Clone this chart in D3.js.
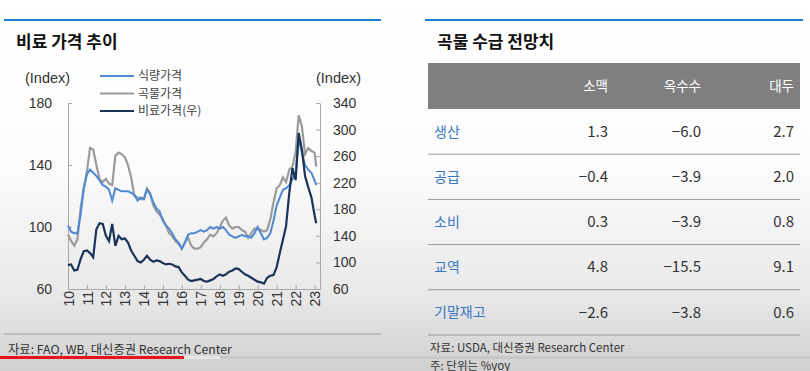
<!DOCTYPE html>
<html>
<head>
<meta charset="utf-8">
<script src="https://cdn.jsdelivr.net/npm/d3@7"></script>
<style>
  body { margin: 0; background: #fff; }
  svg { display: block; }
</style>
</head>
<body>
<script>
// bi-monthly dates (last point Feb 2023)
const dates = [
  "2010-01","2010-03","2010-05","2010-07","2010-09","2010-11",
  "2011-01","2011-03","2011-05","2011-07","2011-09","2011-11",
  "2012-01","2012-03","2012-05","2012-07","2012-09","2012-11",
  "2013-01","2013-03","2013-05","2013-07","2013-09","2013-11",
  "2014-01","2014-03","2014-05","2014-07","2014-09","2014-11",
  "2015-01","2015-03","2015-05","2015-07","2015-09","2015-11",
  "2016-01","2016-03","2016-05","2016-07","2016-09","2016-11",
  "2017-01","2017-03","2017-05","2017-07","2017-09","2017-11",
  "2018-01","2018-03","2018-05","2018-07","2018-09","2018-11",
  "2019-01","2019-03","2019-05","2019-07","2019-09","2019-11",
  "2020-01","2020-03","2020-05","2020-07","2020-09","2020-11",
  "2021-01","2021-03","2021-05","2021-07","2021-09","2021-11",
  "2022-01","2022-03","2022-05","2022-07","2022-09","2022-11",
  "2023-01","2023-02"
];

// 식량가격 (left axis)
const food = [
  101, 97, 96, 96, 108, 125,
  134, 137, 135, 133, 130, 127,
  126, 124, 117, 125, 124, 123,
  123, 123, 122, 121, 117, 119,
  118, 124, 121, 116, 112, 110,
  104, 101, 99, 96, 92, 90,
  86, 90, 95, 96, 96, 97,
  98, 97, 98, 100, 99, 100,
  99, 100, 98, 95, 94, 93,
  94, 95, 94, 94, 93, 96,
  100, 96, 92, 93, 96, 104,
  114, 119, 124, 125, 127, 131,
  134, 157, 148, 140, 137, 135,
  130, 127
];

// 곡물가격 (left axis)
const cereal = [
  95, 91, 88, 92, 112, 125,
  136, 151, 150, 140, 131, 129,
  131, 128, 127, 146, 148, 147,
  145, 140, 132, 120, 119, 118,
  118, 125, 122, 114, 110, 108,
  105, 101, 96, 94, 91, 89,
  86, 90, 93, 88, 86, 86,
  87, 90, 92, 95, 94, 96,
  100, 104, 106, 101, 99, 100,
  100, 98, 97, 93, 96, 99,
  99, 98, 97, 98, 105, 116,
  125, 127, 132, 129, 137, 139,
  148, 172, 165, 147, 151, 149,
  148, 139
];

// 비료가격 (right axis)
const fert = [
  96, 97, 88, 89, 105, 117,
  118, 114, 108, 150, 159, 158,
  140, 132, 158, 125, 140, 135,
  136, 130, 118, 110, 102, 100,
  104, 110, 104, 101, 103, 102,
  99, 97, 98, 97, 94, 93,
  85, 80, 74, 72, 73, 74,
  75, 72, 71, 73, 75, 79,
  82, 80, 82, 86, 88, 91,
  90, 86, 82, 80, 77, 74,
  71, 70, 68, 77, 80, 81,
  93, 114, 134, 155, 205, 242,
  224, 295, 270, 230, 213, 198,
  171, 159
];

const leftTicks = [60, 100, 140, 180];
const rightTicks = [60, 100, 140, 180, 220, 260, 300, 340];
const yearTicks = ["2010","2011","2012","2013","2014","2015","2016","2017","2018","2019","2020","2021","2022","2023"];
const legendNames = ["식량가격", "곡물가격", "비료가격(우)"];

// table
const tableCols = ["소맥", "옥수수", "대두"];
const tableRows = ["생산", "공급", "소비", "교역", "기말재고"];
const wheat = ["1.3", "−0.4", "0.3", "4.8", "−2.6"];
const corn = ["−6.0", "−3.9", "−3.9", "−15.5", "−3.8"];
const soy = ["2.7", "2.0", "0.8", "9.1", "0.6"];

const W = 810, H = 371;
const krFont = "'Noto Sans CJK KR', 'Noto Sans', sans-serif";
const numFont = "'Liberation Sans', Arial, sans-serif";

const svg = d3.select("body").append("svg")
  .attr("width", W)
  .attr("height", H);

// background (screenshot has a soft grey fade toward the bottom)
const grad = svg.append("defs").append("linearGradient")
  .attr("id", "bg").attr("x1", 0).attr("y1", 0).attr("x2", 0).attr("y2", 1);
grad.append("stop").attr("offset", "0%").attr("stop-color", "#ffffff");
grad.append("stop").attr("offset", "45%").attr("stop-color", "#fcfcfc");
grad.append("stop").attr("offset", "80%").attr("stop-color", "#e8e8e8");
grad.append("stop").attr("offset", "100%").attr("stop-color", "#d0d0d0");
svg.append("rect").attr("width", W).attr("height", H).attr("fill", "url(#bg)");

// top blue rules + titles
svg.append("line").attr("x1", 4).attr("x2", 381).attr("y1", 20).attr("y2", 20)
  .attr("stroke", "#1f7fd6").attr("stroke-width", 2);
svg.append("line").attr("x1", 425).attr("x2", 803).attr("y1", 20).attr("y2", 20)
  .attr("stroke", "#1f7fd6").attr("stroke-width", 2);

svg.append("text").attr("x", 16).attr("y", 48)
  .style("font-family", krFont).style("font-size", "17px").style("font-weight", "bold")
  .attr("fill", "#111").text("비료 가격 추이");
svg.append("text").attr("x", 437).attr("y", 48)
  .style("font-family", krFont).style("font-size", "17px").style("font-weight", "bold")
  .attr("fill", "#111").text("곡물 수급 전망치");

// ---- line chart ----
const parse = d3.timeParse("%Y-%m");
const dt = dates.map(parse);

const x = d3.scaleTime()
  .domain([new Date(2010, 0, 1), new Date(2023, 3, 15)])
  .range([68, 320]);
const yL = d3.scaleLinear().domain([60, 180]).range([289, 103]);
const yR = d3.scaleLinear().domain([60, 340]).range([289, 103]);

const axisColor = "#a8a8a8";

const gL = svg.append("g").attr("transform", "translate(68,0)")
  .call(d3.axisLeft(yL).tickValues(leftTicks).tickSizeInner(-4).tickSizeOuter(0).tickPadding(16));
const gR = svg.append("g").attr("transform", "translate(320,0)")
  .call(d3.axisRight(yR).tickValues(rightTicks).tickSizeInner(-4).tickSizeOuter(0).tickPadding(13));
const gB = svg.append("g").attr("transform", "translate(0,289)")
  .call(d3.axisBottom(x).tickValues(yearTicks.map(y => new Date(+y, 0, 1)))
    .tickFormat(d3.timeFormat("%y")).tickSizeInner(-4).tickSizeOuter(0).tickPadding(0));

[gL, gR, gB].forEach(g => {
  g.select(".domain").attr("stroke", axisColor);
  g.selectAll(".tick line").attr("stroke", axisColor);
  g.selectAll("text").style("font-family", numFont).style("font-size", "14px").attr("fill", "#333");
});

gB.selectAll("text")
  .attr("transform", "rotate(-90)")
  .attr("text-anchor", "end")
  .attr("x", -2)
  .attr("y", 0)
  .attr("dy", "0.36em");

svg.append("text").attr("x", 25).attr("y", 83)
  .style("font-family", numFont).style("font-size", "14.5px").attr("fill", "#333").text("(Index)");
svg.append("text").attr("x", 316).attr("y", 83)
  .style("font-family", numFont).style("font-size", "14.5px").attr("fill", "#333").text("(Index)");

const colors = ["#4f88d3", "#9b9b9b", "#1b3358"];

const lineL = d3.line().x((d, i) => x(dt[i])).y(d => yL(d));
const lineR = d3.line().x((d, i) => x(dt[i])).y(d => yR(d));

svg.append("path").datum(cereal).attr("d", lineL)
  .attr("fill", "none").attr("stroke", colors[1]).attr("stroke-width", 2.2);
svg.append("path").datum(food).attr("d", lineL)
  .attr("fill", "none").attr("stroke", colors[0]).attr("stroke-width", 2);
svg.append("path").datum(fert).attr("d", lineR)
  .attr("fill", "none").attr("stroke", colors[2]).attr("stroke-width", 2.2);

// legend
const legend = svg.selectAll(".legend")
  .data(legendNames)
  .enter().append("g")
  .attr("class", "legend")
  .attr("transform", (d, i) => "translate(100," + (76 + i * 17.5) + ")");

legend.append("line")
  .attr("x1", 0).attr("x2", 34).attr("y1", 0).attr("y2", 0)
  .attr("stroke", (d, i) => colors[i]).attr("stroke-width", 2.2);

legend.append("text")
  .attr("x", 38).attr("dy", "0.35em")
  .style("font-family", krFont).style("font-size", "12px").attr("fill", "#444")
  .text(d => d);

// left footer
svg.append("line").attr("x1", 4).attr("x2", 381).attr("y1", 334).attr("y2", 334)
  .attr("stroke", "#a0a0a0").attr("stroke-width", 1);
svg.append("text").attr("x", 8).attr("y", 354)
  .style("font-family", krFont).style("font-size", "12.3px").attr("fill", "#333")
  .text("자료: FAO, WB, 대신증권 Research Center");

// ---- table ----
const colX = [608, 701, 794];
const rowY = d3.scaleBand().domain(tableRows).range([109, 335]);

svg.append("rect").attr("x", 428).attr("y", 63).attr("width", 372).attr("height", 46)
  .attr("fill", "#7f7f7f");

svg.selectAll(".colhead")
  .data(tableCols)
  .enter().append("text")
  .attr("x", (d, i) => colX[i]).attr("y", 86).attr("dy", "0.35em")
  .attr("text-anchor", "end")
  .style("font-family", krFont).style("font-size", "13.5px").attr("fill", "#fff")
  .text(d => d);

const rows = svg.selectAll(".row")
  .data(tableRows)
  .enter().append("g")
  .attr("transform", d => "translate(0," + rowY(d) + ")");

rows.append("line")
  .attr("x1", 428).attr("x2", 800)
  .attr("y1", rowY.bandwidth()).attr("y2", rowY.bandwidth())
  .attr("stroke", "#9a9a9a").attr("stroke-width", 1);

rows.append("text")
  .attr("x", 434).attr("y", rowY.bandwidth() / 2).attr("dy", "0.35em")
  .style("font-family", krFont).style("font-size", "14px").attr("fill", "#3a78c4")
  .text(d => d);

[wheat, corn, soy].forEach((col, ci) => {
  rows.append("text")
    .attr("x", colX[ci]).attr("y", rowY.bandwidth() / 2).attr("dy", "0.35em")
    .attr("text-anchor", "end")
    .style("font-family", krFont).style("font-size", "15px").attr("fill", "#333")
    .text((d, i) => col[i]);
});

svg.append("text").attr("x", 430).attr("y", 352)
  .style("font-family", krFont).style("font-size", "11.5px").attr("fill", "#333")
  .text("자료: USDA, 대신증권 Research Center");
svg.append("text").attr("x", 430).attr("y", 369.5)
  .style("font-family", krFont).style("font-size", "11.5px").attr("fill", "#333")
  .text("주: 단위는 %yoy");

// video progress bar at the bottom of the screenshot
svg.append("rect").attr("x", 0).attr("y", 356).attr("width", W).attr("height", 3)
  .attr("fill", "#c4c4c4").attr("opacity", 0.8);
svg.append("rect").attr("x", 184).attr("y", 356).attr("width", 36).attr("height", 3)
  .attr("fill", "#e6e6e6");
svg.append("rect").attr("x", 0).attr("y", 356).attr("width", 184).attr("height", 3)
  .attr("fill", "#e8141b");
</script>
</body>
</html>
